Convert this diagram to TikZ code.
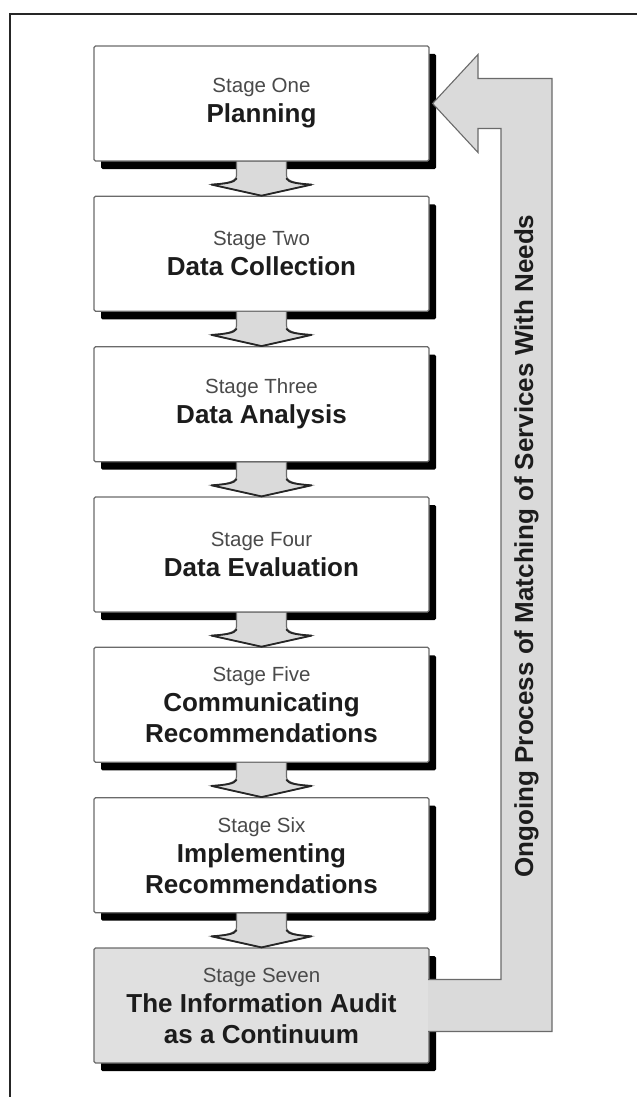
\documentclass[tikz,border=0pt]{standalone}
\usepackage{fontspec}
\setmainfont{Liberation Sans}
\usetikzlibrary{calc,shadows}

\definecolor{fillgray}{HTML}{DADADA}
\definecolor{lastgray}{HTML}{E0E0E0}
\definecolor{edgegray}{HTML}{6A6A6A}
\definecolor{stagegray}{HTML}{4A4A4A}
\definecolor{inkblack}{HTML}{1C1C1C}

% small grey label above each stage title
\newcommand\stg[1]{{\mdseries\color{stagegray}\fontsize{20.5}{24}\selectfont #1}}

% short block arrow from the bottom of one stage to the top of the next;
% the head edges are stroked darker than the shaft
\newcommand\linkarrow[2]{%
  \draw[flowarrow]
    ($(#1.south)+(-25,0)$) -- ($(#1.south)+(-25,14)$)
    .. controls ($(#1.south)+(-25,20)$) and ($(#1.south)+(-36,22)$) .. ($(#1.south)+(-50,23)$)
    -- (#2.north)
    -- ($(#1.south)+(50,23)$)
    .. controls ($(#1.south)+(36,22)$) and ($(#1.south)+(25,20)$) .. ($(#1.south)+(25,14)$)
    -- ($(#1.south)+(25,0)$);
  \draw[headedge]
    ($(#1.south)+(-25,17)$)
    .. controls ($(#1.south)+(-27,21)$) and ($(#1.south)+(-36,22)$) .. ($(#1.south)+(-50,23)$)
    -- (#2.north)
    -- ($(#1.south)+(50,23)$)
    .. controls ($(#1.south)+(36,22)$) and ($(#1.south)+(27,21)$) .. ($(#1.south)+(25,17)$);}

\tikzset{
  stagebox/.style={draw=edgegray, line width=1.2pt, fill=white, rounded corners=1.5pt,
    minimum width=335pt, minimum height=115pt, inner sep=0pt, align=center,
    text=inkblack, font=\bfseries\fontsize{26}{31}\selectfont,
    drop shadow={shadow xshift=7pt, shadow yshift=-8pt, fill=black, opacity=1}},
  flowarrow/.style={fill=fillgray, draw=edgegray, line width=1.1pt, line join=miter},
  headedge/.style={draw=black!85, line width=1.8pt, line join=round, line cap=round},
  frameline/.style={draw=black!85, line width=2.2pt},
  looptext/.style={rotate=90, text=inkblack, font=\bfseries\fontsize{26}{30}\selectfont}
}

\begin{document}
\begin{tikzpicture}[x=1pt,y=-1pt]
\useasboundingbox (0,0) rectangle (637,1097);

% page frame
\draw[frameline] (10,1097) -- (10,14) -- (637,14);

% the seven stages
\node[stagebox] (s1) at (261.5,103.5) {\stg{Stage One}\\[-1pt]Planning};
\node[stagebox] (s2) at (261.5,253.8) {\stg{Stage Two}\\[-1pt]Data Collection};
\node[stagebox] (s3) at (261.5,404.2) {\stg{Stage Three}\\[-1pt]Data Analysis};
\node[stagebox] (s4) at (261.5,554.5) {\stg{Stage Four}\\[-1pt]Data Evaluation};
\node[stagebox] (s5) at (261.5,704.8) {\stg{Stage Five}\\[-1pt]Communicating\\Recommendations};
\node[stagebox] (s6) at (261.5,855.2) {\stg{Stage Six}\\[-1pt]Implementing\\Recommendations};
\node[stagebox, fill=lastgray] (s7) at (261.5,1005.5) {\stg{Stage Seven}\\[-1pt]The Information Audit\\as a Continuum};

% arrows between consecutive stages
\linkarrow{s1}{s2}
\linkarrow{s2}{s3}
\linkarrow{s3}{s4}
\linkarrow{s4}{s5}
\linkarrow{s5}{s6}
\linkarrow{s6}{s7}

% return arrow from stage seven back to stage one
\coordinate (innerx) at (501,0);
\coordinate (outerx) at (552,0);
\coordinate (neckx)  at (478,0);
\coordinate (armtop) at ($(s7.east)+(-1.5,-26)$);
\coordinate (armbot) at ($(s7.east)+(-1.5,26)$);
\coordinate (headtip) at ($(s1.east)+(3,0)$);
\coordinate (necktop) at ($(s1.east)+(0,-25)$);
\coordinate (neckbot) at ($(s1.east)+(0,25)$);
\coordinate (wingtop) at ($(s1.east)+(0,-49)$);
\coordinate (wingbot) at ($(s1.east)+(0,49)$);
\draw[flowarrow]
  (armtop) -- (armtop -| innerx) -- (neckbot -| innerx) -- (neckbot -| neckx)
  -- (wingbot -| neckx) -- (headtip) -- (wingtop -| neckx) -- (necktop -| neckx)
  -- (necktop -| outerx) -- (armbot -| outerx) -- (armbot);

\node[looptext] (loop) at (526.5,546) {Ongoing Process of Matching of Services With Needs};
\end{tikzpicture}
\end{document}
